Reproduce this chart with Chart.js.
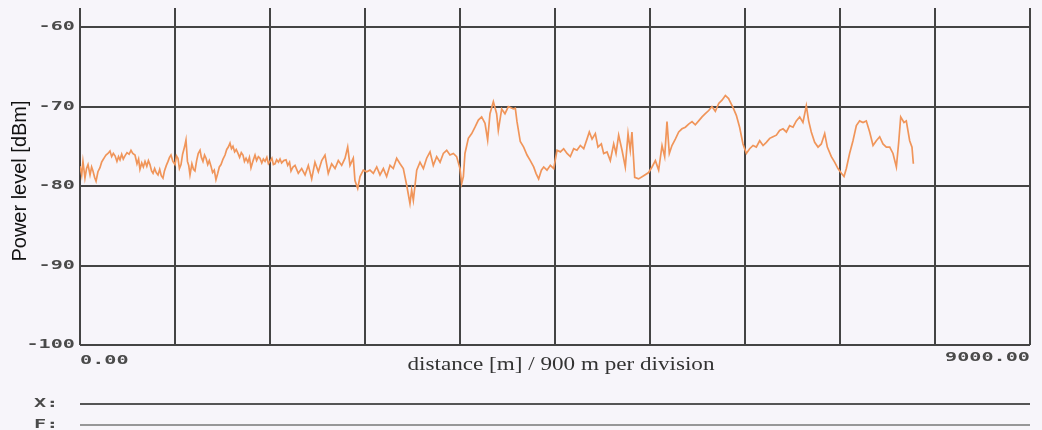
<!DOCTYPE html>
<html>
<head>
<meta charset="utf-8">
<script src="https://cdn.jsdelivr.net/npm/chart.js@4.4.1/dist/chart.umd.min.js"></script>
<style>
  html, body { margin: 0; padding: 0; background: #f7f5fa; }
  #wrap { width: 1042px; height: 430px; }
</style>
</head>
<body>
<div id="wrap"><canvas id="trace" width="1042" height="430"></canvas></div>
<script>
// distance along the line [m]
const distances = [
  0, 16, 28, 47, 62, 76, 95, 110, 123, 138, 152, 170, 189, 205, 218, 232, 246, 265, 284, 300,
  316, 332, 350, 365, 379, 395, 410, 426, 445, 465, 483, 500, 521, 540, 555, 568, 585, 600, 616, 633,
  648, 663, 678, 692, 707, 722, 739, 755, 770, 786, 800, 818, 834, 848, 862, 880, 900, 914, 928, 942,
  957, 972, 990, 1004, 1018, 1030, 1042, 1060, 1075, 1089, 1105, 1120, 1137, 1150, 1165, 1180, 1194, 1210, 1225, 1241,
  1256, 1272, 1288, 1305, 1320, 1336, 1355, 1374, 1390, 1405, 1421, 1435, 1449, 1465, 1480, 1497, 1512, 1528, 1544, 1558,
  1573, 1590, 1605, 1620, 1640, 1658, 1673, 1690, 1705, 1722, 1737, 1753, 1770, 1785, 1800, 1818, 1832, 1847, 1863, 1880,
  1895, 1910, 1930, 1952, 1968, 1985, 1999, 2018,
  2037, 2068, 2100, 2132, 2163, 2195, 2226, 2258, 2290, 2321, 2352, 2384, 2416, 2447, 2479, 2511, 2536, 2558, 2589, 2605,
  2631, 2653, 2684, 2716, 2747, 2779, 2811, 2842, 2874, 2905, 2937, 2968, 3000, 3032, 3063, 3095, 3126, 3142, 3158, 3190,
  3221, 3253, 3284, 3316, 3347, 3379, 3411, 3442, 3474, 3505, 3537, 3568, 3600, 3616, 3632, 3647, 3679, 3711, 3742, 3774,
  3805, 3837, 3862, 3884, 3916, 3947, 3963, 3995, 4026, 4058, 4105,
  4124, 4140, 4171, 4203, 4235, 4266, 4298, 4320, 4345, 4371, 4393, 4424, 4456, 4488, 4519, 4551, 4582, 4614, 4645, 4677,
  4708, 4740, 4772, 4803, 4825, 4851, 4882, 4907, 4939, 4961, 4993, 5024, 5056, 5078, 5103, 5135, 5166, 5192, 5213, 5229,
  5255, 5292, 5340, 5387, 5419, 5451, 5482, 5514, 5539, 5561, 5583, 5608, 5640, 5672, 5703, 5735, 5766, 5798, 5829, 5861,
  5893, 5924, 5956, 5987, 6019, 6051, 6082, 6114, 6145,
  6155, 6186, 6218, 6249, 6281, 6313, 6344, 6376, 6407, 6439, 6471, 6502, 6534, 6565, 6597, 6628, 6660, 6692, 6723, 6755,
  6786, 6818, 6849, 6881, 6903, 6928, 6960, 6992, 7023, 7055, 7080, 7118, 7149, 7181, 7213, 7238, 7260, 7291, 7323, 7355,
  7386, 7418, 7449, 7481, 7513, 7544, 7576, 7607, 7639, 7671, 7702, 7734, 7756, 7775, 7806, 7828, 7860, 7882, 7895
];

// received power [dBm]
const power = [
  -77.5, -78.6, -76.9, -79.0, -77.8, -77.3, -78.6, -77.6, -78.1, -78.9, -79.4, -78.2, -77.7, -77.0, -76.7, -76.4, -76.1, -75.9, -75.6, -76.3,
  -75.9, -76.2, -76.9, -76.3, -76.7, -76.0, -76.6, -76.2, -75.8, -76.0, -75.5, -75.9, -76.1, -77.2, -76.6, -77.9, -77.1, -77.6, -76.9, -77.5,
  -76.8, -77.3, -78.1, -78.4, -77.8, -78.3, -78.6, -77.9, -78.7, -79.0, -78.1, -77.4, -76.9, -76.4, -76.1, -76.9, -77.3, -76.2, -76.5, -77.8,
  -77.3, -76.0, -75.1, -74.2, -76.9, -77.4, -78.6, -77.2, -77.9, -78.1, -76.8, -75.9, -75.5, -76.4, -76.9, -76.1, -76.5, -77.3, -76.8, -77.5,
  -78.3, -78.0, -79.2, -78.4, -77.6, -77.3, -76.6, -76.1, -75.4, -75.1, -74.6, -75.3, -75.0, -75.7, -75.4, -75.9, -76.4, -75.8, -76.1, -76.9,
  -76.5, -77.0, -76.4, -77.7, -76.8, -76.1, -76.8, -76.3, -76.5, -77.1, -76.6, -76.9, -76.4, -77.2, -76.9, -76.5, -77.3, -77.2, -76.7, -77.0,
  -76.6, -77.1, -76.8, -76.7, -77.4, -77.0, -78.1, -77.6,
  -77.4, -78.4, -77.8, -78.6, -77.4, -79.1, -77.0, -78.2, -76.8, -76.1, -78.4, -77.2, -77.8, -76.8, -77.4, -76.5, -75.1, -77.4, -76.5, -79.3,
  -80.3, -78.8, -78.0, -78.2, -78.0, -78.4, -77.6, -78.6, -77.8, -78.8, -77.4, -77.8, -76.5, -77.2, -77.8, -79.9, -82.2, -80.5, -81.8, -78.0,
  -77.0, -77.8, -76.5, -75.7, -77.4, -76.3, -77.0, -75.9, -75.5, -76.1, -75.9, -76.3, -77.8, -79.7, -78.8, -75.9, -74.0, -73.4, -72.6, -71.7,
  -71.3, -72.1, -74.2, -70.9, -69.4, -70.9, -73.0, -70.3, -70.9, -70.0, -70.3,
  -70.2, -71.9, -74.4, -75.1, -76.1, -76.8, -77.6, -78.4, -79.1, -78.0, -77.6, -78.0, -77.4, -77.8, -75.5, -75.7, -75.3, -75.9, -76.3, -75.3,
  -75.5, -74.9, -75.3, -74.1, -73.2, -74.1, -73.4, -75.1, -74.7, -75.9, -75.7, -76.8, -74.7, -75.9, -73.6, -75.5, -77.6, -73.4, -75.5, -73.2,
  -78.9, -79.1, -78.7, -78.3, -77.6, -76.8, -78.0, -74.9, -76.3, -71.9, -75.9, -74.9, -74.1, -73.2, -72.8, -72.6, -72.2, -71.9, -72.3, -71.8,
  -71.3, -70.9, -70.5, -70.0, -70.6, -69.6, -69.2, -68.6, -69.0,
  -69.3, -70.1, -71.1, -72.6, -74.7, -75.9, -75.3, -74.9, -75.1, -74.3, -74.9, -74.5, -74.0, -73.8, -73.6, -73.0, -72.8, -73.2, -72.4, -72.6,
  -71.8, -71.3, -72.0, -69.9, -71.8, -73.2, -74.5, -75.1, -74.7, -73.4, -75.1, -76.3, -77.0, -77.8, -78.4, -78.8, -77.8, -75.9, -74.3, -72.4,
  -71.8, -72.0, -71.8, -73.2, -74.9, -74.3, -73.8, -74.7, -75.1, -75.1, -75.9, -77.6, -74.5, -71.3, -72.0, -71.8, -74.3, -75.1, -77.2
];

// axis values
const yTicks = [-100, -90, -80, -70, -60];
const xRange = [0, 9000];
const xDivision = 900;
const xEndLabels = ['0.00', '9000.00'];
const xTitle = 'distance [m] / 900 m per division';
const yTitle = 'Power level [dBm]';
const markerRows = ['X:', 'F:'];

const INK = '#444';
const MONO = 'bold 13px "DejaVu Sans Mono"';

// stretched mono text, like the plotter's own lettering
function wideText(ctx, text, x, y, align) {
  ctx.save();
  ctx.font = MONO;
  ctx.fillStyle = '#4a4a4a';
  ctx.textBaseline = 'middle';
  ctx.textAlign = align;
  ctx.translate(x, y);
  ctx.scale(1.55, 1);
  ctx.fillText(text, 0, 0);
  ctx.restore();
}

const labelsPlugin = {
  id: 'plotterLabels',
  afterDraw(chart) {
    const ctx = chart.ctx;
    const area = chart.chartArea;
    const ys = chart.scales.y;

    // level ticks
    yTicks.forEach(v => wideText(ctx, String(v), area.left - 5, ys.getPixelForValue(v), 'right'));

    // distance ends
    wideText(ctx, xEndLabels[0], area.left, 361, 'left');
    wideText(ctx, xEndLabels[1], area.right, 358, 'right');

    // x title
    ctx.save();
    ctx.font = '19px "Liberation Serif"';
    ctx.fillStyle = '#333';
    ctx.textBaseline = 'middle';
    ctx.textAlign = 'center';
    const w = ctx.measureText(xTitle).width;
    ctx.translate(561, 365);
    ctx.scale(307 / w, 1);
    ctx.fillText(xTitle, 0, 0);
    ctx.restore();

    // y title
    ctx.save();
    ctx.font = '20px "Liberation Sans"';
    ctx.fillStyle = '#111';
    ctx.textBaseline = 'middle';
    ctx.textAlign = 'center';
    ctx.translate(20, 181);
    ctx.rotate(-Math.PI / 2);
    ctx.fillText(yTitle, 0, 0);
    ctx.restore();

    // marker rows under the plot
    const rowY = [404, 425];
    markerRows.forEach((t, i) => {
      wideText(ctx, t, 34, rowY[i], 'left');
      ctx.save();
      ctx.strokeStyle = i === 0 ? '#555' : '#777';
      ctx.lineWidth = i === 0 ? 2 : 1.5;
      ctx.beginPath();
      ctx.moveTo(area.left, rowY[i]);
      ctx.lineTo(area.right, rowY[i]);
      ctx.stroke();
      ctx.restore();
    });
  }
};

new Chart(document.getElementById('trace'), {
  type: 'line',
  data: {
    datasets: [{
      data: distances.map((d, i) => ({ x: d, y: power[i] })),
      borderColor: '#f0955a',
      borderWidth: 1.7,
      pointRadius: 0,
      tension: 0,
      fill: false
    }]
  },
  options: {
    responsive: false,
    animation: false,
    devicePixelRatio: 1,
    layout: { padding: { left: 80, top: 8, right: 12, bottom: 85 } },
    scales: {
      x: {
        type: 'linear',
        min: xRange[0],
        max: xRange[1],
        ticks: { display: false, stepSize: xDivision },
        grid: { color: INK, lineWidth: 2, drawTicks: false },
        border: { display: false }
      },
      y: {
        min: -100,
        max: -57.6,
        afterBuildTicks: scale => { scale.ticks = yTicks.map(v => ({ value: v })); },
        ticks: { display: false },
        grid: { color: INK, lineWidth: 2, drawTicks: false },
        border: { display: false }
      }
    },
    plugins: {
      legend: { display: false },
      tooltip: { enabled: false }
    }
  },
  plugins: [labelsPlugin]
});
</script>
</body>
</html>
